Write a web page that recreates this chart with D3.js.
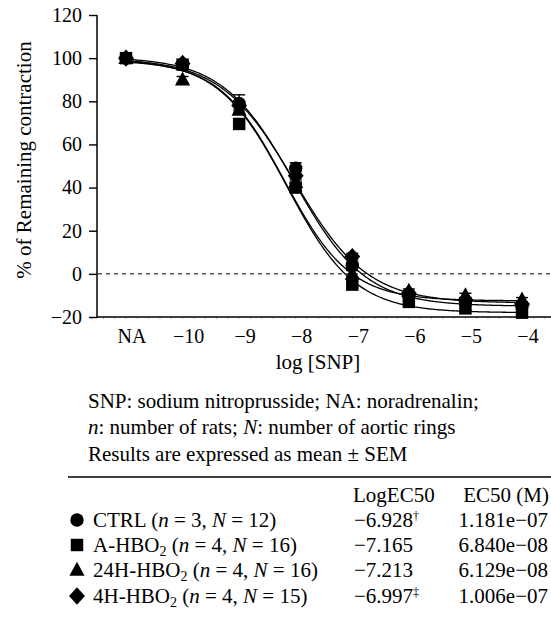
<!DOCTYPE html>
<html>
<head>
<meta charset="utf-8">
<script src="https://cdn.jsdelivr.net/npm/d3@7"></script>
<style>
  html, body { margin: 0; padding: 0; background: #fff; }
  svg { display: block; }
  text { font-family: "Liberation Serif", "DejaVu Serif", serif; fill: #000; }
</style>
</head>
<body>
<svg id="chart" width="551" height="618"></svg>
<script>
// ---------------- DATA ----------------
const categories = ["NA", "\u221210", "\u22129", "\u22128", "\u22127", "\u22126", "\u22125", "\u22124"];
const xValues = [-11, -10, -9, -8, -7, -6, -5, -4];
const yTicks = [-20, 0, 20, 40, 60, 80, 100, 120];
const yTickLabels = ["\u221220", "0", "20", "40", "60", "80", "100", "120"];

const seriesNames = ["CTRL", "A-HBO", "24H-HBO", "4H-HBO"];
const ctrlValues = [100, 97, 79, 49, 4, -10, -13, -15];
const aHboValues = [100, 97, 69.5, 40, -5, -13, -16, -18];
const h24HboValues = [100, 90, 76, 42.5, 0, -8, -10, -12];
const h4HboValues = [100, 97.5, 78, 45.5, 8, -9, -12, -14];

const ctrlSem = [0.5, 1, 4, 2.5, 1.5, 1, 1, 1];
const aHboSem = [0.5, 1, 2, 2, 1.5, 1, 1, 1];
const h24HboSem = [0.5, 1.5, 2, 2, 1.5, 1, 1, 1];
const h4HboSem = [0.5, 1, 2, 2, 1.5, 1, 1, 1];

// sigmoidal fit parameters (top, bottom, midpoint on the x axis, Hill slope)
const fitTop = [100.5, 99.5, 99, 100];
const fitBottom = [-15, -18, -12.5, -13.5];
const fitMid = [-8.03, -8.16, -8.2, -8.03];
const fitHill = [0.69, 0.72, 0.75, 0.67];

// table
const nRats = [3, 4, 4, 4];
const nRings = [12, 16, 16, 15];
const hasSub = [false, true, true, true];
const logEC50 = ["\u22126.928", "\u22127.165", "\u22127.213", "\u22126.997"];
const logMarks = ["\u2020", "", "", "\u2021"];
const ec50 = ["1.181e\u221207", "6.840e\u221208", "6.129e\u221208", "1.006e\u221207"];
const footLines = [
  "SNP: sodium nitroprusside; NA: noradrenalin;",
  "number of rats; ",
  "Results are expressed as mean \u00b1 SEM"
];

// ---------------- CHART ----------------
const svg = d3.select("#chart");
const x = d3.scaleLinear().domain([-11, -4]).range([126, 522]);
const y = d3.scaleLinear().domain([-20, 120]).range([317, 15]);
const axisX0 = 97, axisRight = 551;

// custom symbols
const sqType = { draw(ctx, s) { const h = Math.sqrt(s) / 2; ctx.rect(-h, -h, 2 * h, 2 * h); } };
const triType = { draw(ctx, s) { const a = Math.sqrt(s); ctx.moveTo(0, -a * 0.6); ctx.lineTo(a * 0.55, a * 0.42); ctx.lineTo(-a * 0.55, a * 0.42); ctx.closePath(); } };
const diaType = { draw(ctx, s) { const a = Math.sqrt(s); ctx.moveTo(0, -a * 0.6); ctx.lineTo(a * 0.55, 0); ctx.lineTo(0, a * 0.6); ctx.lineTo(-a * 0.55, 0); ctx.closePath(); } };
const symTypes = [d3.symbolCircle, sqType, triType, diaType];
const symSizes = [140, 155, 190, 210];

const values = [ctrlValues, aHboValues, h24HboValues, h4HboValues];
const sems = [ctrlSem, aHboSem, h24HboSem, h4HboSem];

// y axis
const yAxis = d3.axisLeft(y).tickValues(yTicks).tickSize(8).tickPadding(7)
  .tickFormat((d, i) => yTickLabels[i]);
const gy = svg.append("g").attr("transform", `translate(${axisX0},0)`).call(yAxis);
gy.attr("font-family", null);
gy.select(".domain").remove();
gy.selectAll(".tick line").attr("stroke", "#000").attr("stroke-width", 1.4);
gy.selectAll(".tick text").style("font-size", "20px");
svg.append("line").attr("x1", axisX0).attr("x2", axisX0).attr("y1", y(120)).attr("y2", y(-20) + 0.7)
  .attr("stroke", "#000").attr("stroke-width", 1.5);

// x axis
svg.append("line").attr("x1", axisX0).attr("x2", axisRight).attr("y1", y(-20)).attr("y2", y(-20))
  .attr("stroke", "#000").attr("stroke-width", 1.5);
const minorTicks = d3.range(-11.6, -3.35, 0.2);
svg.append("g").selectAll("line").data(minorTicks).join("line")
  .attr("x1", d => x(d)).attr("x2", d => x(d))
  .attr("y1", y(-20)).attr("y2", y(-20) + 2)
  .attr("stroke", "#000").attr("stroke-width", 0.6).attr("opacity", 0.5);
svg.append("g").selectAll("text").data(categories).join("text")
  .attr("x", (d, i) => x(xValues[i]) + 6).attr("y", 343)
  .attr("text-anchor", "middle").style("font-size", "20px").text(d => d);

// zero dashed line
svg.append("line").attr("x1", axisX0 + 1).attr("x2", axisRight).attr("y1", y(0)).attr("y2", y(0))
  .attr("stroke", "#000").attr("stroke-width", 1).attr("stroke-dasharray", "4,4");

// axis titles
svg.append("text").attr("transform", `translate(31,160) rotate(-90)`)
  .attr("text-anchor", "middle").style("font-size", "21px").text("% of Remaining contraction");
svg.append("text").attr("x", 318).attr("y", 369).attr("text-anchor", "middle")
  .style("font-size", "21px").text("log [SNP]");

// fitted curves
const xs = d3.range(-11, -3.999, 0.02);
const line = d3.line().x(d => x(d[0])).y(d => y(d[1]));
fitTop.forEach((top, k) => {
  const pts = xs.map(v => [v, fitBottom[k] + (top - fitBottom[k]) / (1 + Math.pow(10, (v - fitMid[k]) * fitHill[k]))]);
  svg.append("path").attr("d", line(pts)).attr("fill", "none").attr("stroke", "#000").attr("stroke-width", 1.3);
});

// error bars
values.forEach((vals, k) => {
  const g = svg.append("g").attr("stroke", "#000").attr("stroke-width", 1.4);
  vals.forEach((v, i) => {
    const e = sems[k][i], cx = x(xValues[i]);
    g.append("line").attr("x1", cx).attr("x2", cx).attr("y1", y(v + e)).attr("y2", y(v - e));
    g.append("line").attr("x1", cx - 6).attr("x2", cx + 6).attr("y1", y(v + e)).attr("y2", y(v + e));
    g.append("line").attr("x1", cx - 6).attr("x2", cx + 6).attr("y1", y(v - e)).attr("y2", y(v - e));
  });
});

// markers
values.forEach((vals, k) => {
  svg.append("g").selectAll("path").data(vals).join("path")
    .attr("transform", (v, i) => `translate(${x(xValues[i])},${y(v)})`)
    .attr("d", d3.symbol().type(symTypes[k]).size(symSizes[k])())
    .attr("fill", "#000");
});

// ---------------- FOOTNOTE & TABLE ----------------
const fs = "21px";
const foot = svg.append("g").style("font-size", fs);
foot.append("text").attr("x", 88).attr("y", 408).text(footLines[0]);
const l2 = foot.append("text").attr("x", 88).attr("y", 434);
l2.append("tspan").attr("font-style", "italic").text("n");
l2.append("tspan").text(": " + footLines[1]);
l2.append("tspan").attr("font-style", "italic").text("N");
l2.append("tspan").text(": number of aortic rings");
foot.append("text").attr("x", 88).attr("y", 461).text(footLines[2]);

svg.append("line").attr("x1", 68).attr("x2", 551).attr("y1", 477).attr("y2", 477)
  .attr("stroke", "#000").attr("stroke-width", 1.4);

const tbl = svg.append("g").style("font-size", fs);
tbl.append("text").attr("x", 353).attr("y", 502).text("LogEC50");
tbl.append("text").attr("x", 549).attr("y", 502).attr("text-anchor", "end").text("EC50 (M)");

const rowY = [527, 552, 577, 603];
seriesNames.forEach((name, k) => {
  const yy = rowY[k];
  svg.append("path")
    .attr("transform", `translate(77,${yy - 7})`)
    .attr("d", d3.symbol().type(symTypes[k]).size(symSizes[k])())
    .attr("fill", "#000");
  const t = tbl.append("text").attr("x", 93).attr("y", yy);
  t.append("tspan").text(name);
  if (hasSub[k]) t.append("tspan").attr("dy", 4).style("font-size", "14px").text("2");
  t.append("tspan").attr("dy", hasSub[k] ? -4 : 0).text(" (");
  t.append("tspan").attr("font-style", "italic").text("n");
  t.append("tspan").text(" = " + nRats[k] + ", ");
  t.append("tspan").attr("font-style", "italic").text("N");
  t.append("tspan").text(" = " + nRings[k] + ")");

  const lv = tbl.append("text").attr("x", 354).attr("y", yy);
  lv.append("tspan").text(logEC50[k]);
  if (logMarks[k]) lv.append("tspan").attr("dy", -7).style("font-size", "12px").text(logMarks[k]);
  tbl.append("text").attr("x", 548).attr("y", yy).attr("text-anchor", "end").text(ec50[k]);
});
</script>
</body>
</html>
